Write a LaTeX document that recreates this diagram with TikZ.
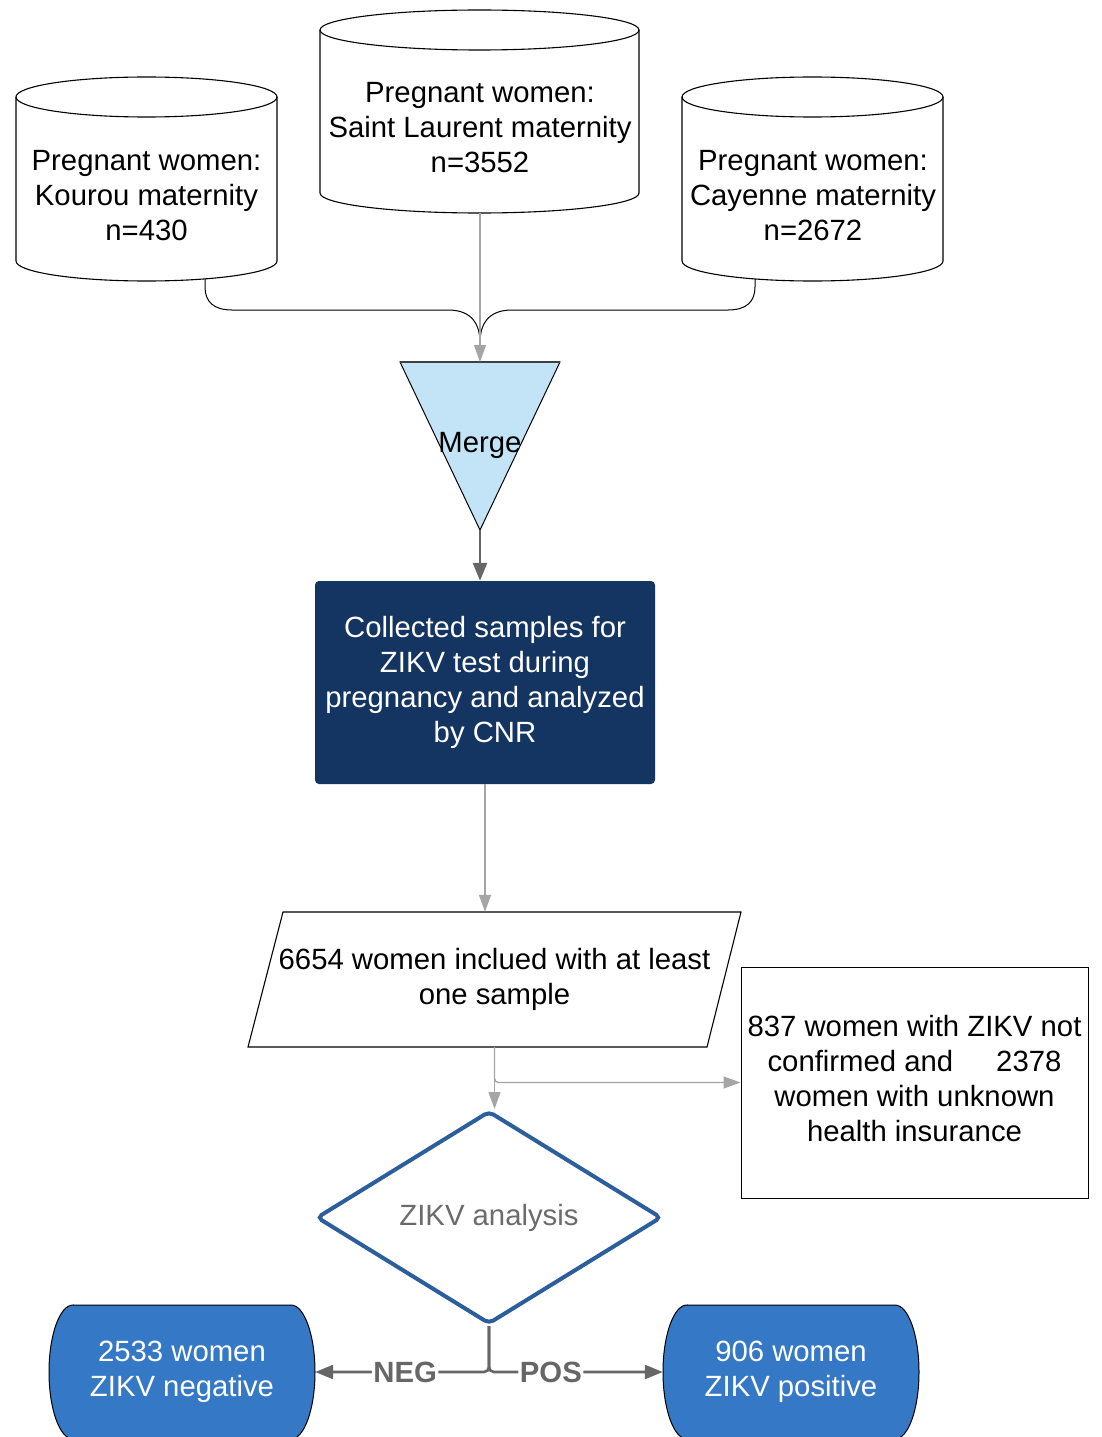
\documentclass[tikz,border=0pt]{standalone}
\usepackage{fontspec}
\setmainfont{Liberation Sans}
\usetikzlibrary{arrows.meta,shapes.geometric}
\definecolor{navy}{HTML}{143462}
\definecolor{pillblue}{HTML}{3478C6}
\definecolor{dblue}{HTML}{2C5E9E}
\definecolor{mergeblue}{HTML}{C3E4F6}
\definecolor{lgray}{HTML}{A5A5A5}
\definecolor{dgray}{HTML}{666666}
\definecolor{zgray}{HTML}{6B6B6B}
\begin{document}
\begin{tikzpicture}[x=1bp,y=-1bp,
  font=\fontsize{29.3bp}{35bp}\selectfont,
  txt/.style={align=center, inner sep=0pt},
  blk/.style={draw=black, line width=1.1bp},
  gline/.style={draw=lgray, line width=1.4bp},
  gtip/.style={-{Triangle[length=17bp,width=12bp]}},
  dline/.style={draw=dgray, line width=2.6bp},
  dtip/.style={-{Triangle[length=18bp,width=14bp]}},
  lbl/.style={fill=white, inner sep=1.5bp, text=dgray, font=\fontsize{29.3bp}{35bp}\selectfont\bfseries},
  pillstyle/.style={fill=pillblue, draw=black, line width=1bp}]
\useasboundingbox (0,0) rectangle (1101,1437);
\clip (0,0) rectangle (1101,1437);
\fill[white] (0,0) rectangle (1101,1437);

% cylinders
\draw[blk, fill=white] (16,97) -- (16,261) arc[start angle=180,end angle=360,x radius=130.5bp,y radius=20bp] -- (277,97);
\draw[blk] (146.5,97) ellipse[x radius=130.5bp, y radius=20bp];
\draw[blk, fill=white] (320,30) -- (320,193) arc[start angle=180,end angle=360,x radius=159.5bp,y radius=20bp] -- (639,30);
\draw[blk] (479.5,30) ellipse[x radius=159.5bp, y radius=20bp];
\draw[blk, fill=white] (682,97) -- (682,261) arc[start angle=180,end angle=360,x radius=130.5bp,y radius=20bp] -- (943,97);
\draw[blk] (812.5,97) ellipse[x radius=130.5bp, y radius=20bp];

\node[txt] (kourou) at (146.5,196) {Pregnant women:\\Kourou maternity\\n=430};
\node[txt] (stl) at (480,128) {Pregnant women:\\Saint Laurent maternity\\n=3552};
\node[txt] (cay) at (813,196) {Pregnant women:\\Cayenne maternity\\n=2672};

\coordinate (kb) at (205,279);
\coordinate (cb) at (755,279);
\coordinate (sb) at (480,213);
\coordinate (join) at (480,343);
\coordinate (mtop) at (480,362);
\coordinate (mbot) at (480,530);

% merge triangle
\filldraw[fill=mergeblue, draw=black, line width=1bp] (400,362) -- (560,362) -- (mbot) -- cycle;
\draw[draw=black!75, line width=1.6bp] (400,362) -- (560,362);
\node[txt] (merge) at (480,445) {Merge};

% connectors into merge
\draw[black, line width=1bp] (kb) -- (205,287) .. controls (205,302) and (214,310) .. (232,310) -- (448,310) .. controls (468,310) and (480,320) .. (join);
\draw[black, line width=1bp] (cb) -- (755,287) .. controls (755,302) and (746,310) .. (728,310) -- (512,310) .. controls (492,310) and (480,320) .. (join);
\draw[gline, gtip] (sb) -- (mtop);

% collected box
\node[fill=navy, rounded corners=4bp, minimum width=340bp, minimum height=203bp, text=white, align=center, inner sep=0pt] (cnr) at (485,682.5) {Collected samples for\\ZIKV test during\\pregnancy and analyzed\\by CNR};
\draw[dline, dtip] (mbot) -- (mbot |- cnr.north);

% parallelogram
\draw[blk, fill=white] (283,912) -- (741,912) -- (707,1047) -- (248,1047) -- cycle;
\node[txt, minimum width=420bp, minimum height=135bp] (para) at (494.5,979.5) {};
\node[txt] (paratext) at (494.5,979.5) {6654 women inclued with at least\\one sample};
\draw[gline, gtip] (cnr.south) -- (cnr.south |- para.north);

% side box
\node[draw=black, line width=1bp, minimum width=347bp, minimum height=231bp, inner sep=0pt] (side) at (914.5,1082.5) {};
\node[txt] (sidetext) at (914.5,1078.5) {837 women with ZIKV not\\confirmed and\hspace{43bp}2378\\women with unknown\\health insurance};

% diamond
\node[diamond, draw=dblue, line width=4bp, rounded corners=5bp, minimum width=345bp, minimum height=213bp, inner sep=0pt, text=zgray] (zikv) at (489,1217.5) {ZIKV analysis};

\draw[gline, gtip, rounded corners=4bp] (para.south) |- (side.west);
\draw[gline, gtip] (para.south) -- (para.south |- zikv.north);

% pills
\filldraw[pillstyle] (73,1305) -- (291,1305) arc[start angle=90,end angle=-90,x radius=24bp,y radius=67bp] -- (73,1439) arc[start angle=270,end angle=90,x radius=24bp,y radius=67bp] -- cycle;
\filldraw[pillstyle] (687,1305) -- (895,1305) arc[start angle=90,end angle=-90,x radius=24bp,y radius=67bp] -- (687,1439) arc[start angle=270,end angle=90,x radius=24bp,y radius=67bp] -- cycle;
\node[txt, minimum width=266bp, minimum height=134bp, text=white] (negn) at (182,1372) {2533 women\\ZIKV negative};
\node[txt, minimum width=256bp, minimum height=134bp, text=white] (posn) at (791,1372) {906 women\\ZIKV positive};

\draw[dline, dtip, rounded corners=5bp] (zikv.south) |- node[pos=0.741, lbl] {NEG} (negn.east);
\draw[dline, dtip, rounded corners=5bp] (zikv.south) |- node[pos=0.678, lbl] {POS} (posn.west);
\end{tikzpicture}
\end{document}
